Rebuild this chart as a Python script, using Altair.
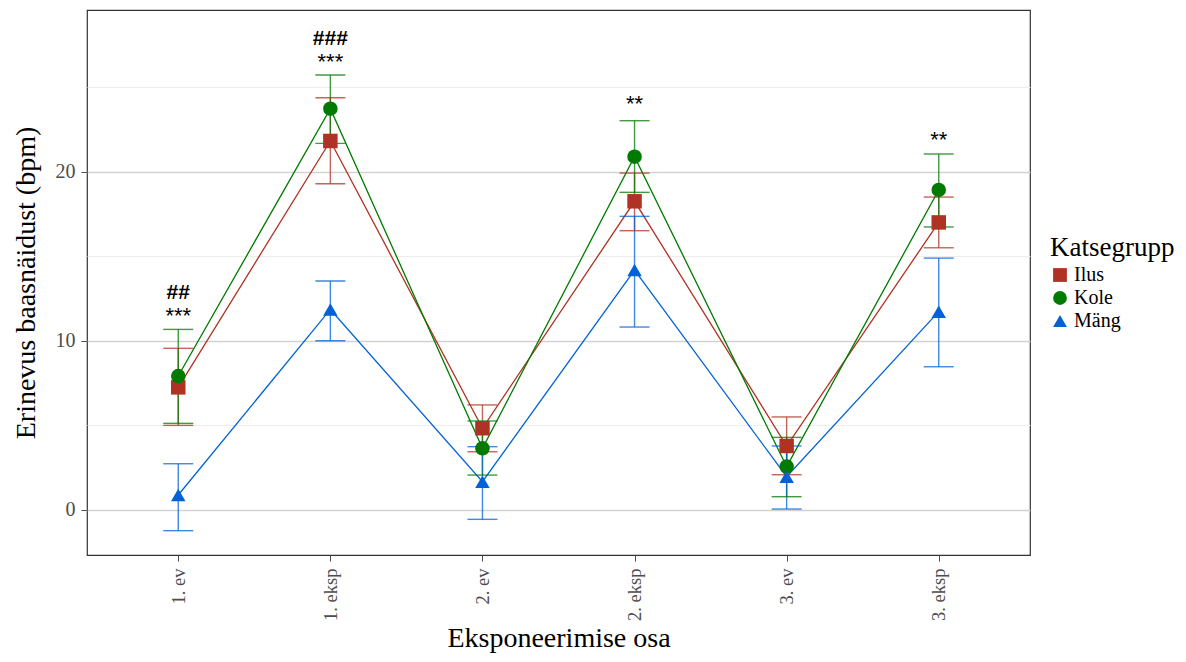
import altair as alt
import pandas as pd

phases = ["1. ev", "1. eksp", "2. ev", "2. eksp", "3. ev", "3. eksp"]
groups = ["Ilus", "Kole", "Mäng"]
colors = ["#B03224", "#007A00", "#0062D6"]
shapes = ["square", "circle", "triangle-up"]

ilus_mean = [7.24, 21.82, 4.82, 18.25, 3.77, 17.00]
ilus_lo = [4.99, 19.29, 3.43, 16.51, 2.07, 15.50]
ilus_hi = [9.55, 24.38, 6.20, 19.92, 5.49, 18.50]

kole_mean = [7.91, 23.73, 3.63, 20.89, 2.55, 18.92]
kole_lo = [5.11, 21.68, 2.05, 18.78, 0.77, 16.73]
kole_hi = [10.67, 25.72, 5.25, 23.02, 4.28, 21.05]

mang_mean = [0.87, 11.85, 1.66, 14.18, 1.95, 11.72]
mang_lo = [-1.24, 10.00, -0.57, 10.81, 0.04, 8.46]
mang_hi = [2.72, 13.53, 3.73, 17.36, 3.77, 14.89]

star_phase = ["1. ev", "1. eksp", "2. eksp", "3. eksp"]
star_text = ["***", "***", "**", "**"]
star_y = [11.05, 26.07, 23.59, 21.49]

hash_phase = ["1. ev", "1. eksp"]
hash_text = ["##", "###"]
hash_y = [12.46, 27.50]

rows = []
for g, m, lo, hi in [("Ilus", ilus_mean, ilus_lo, ilus_hi),
                     ("Kole", kole_mean, kole_lo, kole_hi),
                     ("Mäng", mang_mean, mang_lo, mang_hi)]:
    for p, a, b, c in zip(phases, m, lo, hi):
        rows.append({"phase": p, "group": g, "group2": g, "mean": a, "lo": b, "hi": c})
df = pd.DataFrame(rows)
stars = pd.DataFrame({"phase": star_phase, "text": star_text, "y": star_y})
hashes = pd.DataFrame({"phase": hash_phase, "text": hash_text, "y": hash_y})

FONT = "Liberation Serif"
xscale = alt.Scale(type="point", padding=0.6)
xenc = alt.X("phase:N", sort=phases, scale=xscale,
             axis=alt.Axis(title="Eksponeerimise osa", labelAngle=-90, labelFontSize=18.5,
                           labelColor="#4d4d4d", labelFont=FONT, titleFont=FONT,
                           titleFontSize=28, titleFontWeight="normal", titleColor="#000000",
                           titleY=91, titleBaseline="alphabetic",
                           tickColor="#4d4d4d", tickSize=6, labelPadding=7,
                           domain=False, grid=False))
yscale = alt.Scale(domain=[-2.68, 29.57], nice=False, zero=False)

major = "datum.value % 10 === 0"
yaxis = alt.Axis(
    values=[0, 5, 10, 15, 20, 25], grid=True,
    gridColor={"condition": {"test": major, "value": "#d2d2d2"}, "value": "#ededed"},
    gridWidth={"condition": {"test": major, "value": 1.3}, "value": 1},
    tickOpacity={"condition": {"test": major, "value": 1}, "value": 0},
    labelExpr="datum.value % 10 === 0 ? datum.label : ''",
    title="Erinevus baasnäidust (bpm)", titleFont=FONT, titleFontSize=28,
    titleFontWeight="normal", titleColor="#000000", labelFont=FONT,
    labelFontSize=20, labelColor="#4d4d4d", tickColor="#4d4d4d",
    tickSize=6, labelPadding=6, titlePadding=15, domain=False)

# separate field so these hidden legends do not merge with the visible one
stroke_enc = alt.Stroke("group2:N", scale=alt.Scale(range=colors), legend=None)
fill_enc = alt.Fill("group2:N", scale=alt.Scale(range=colors), legend=None)

base = alt.Chart(df)

lines = base.mark_line(strokeWidth=1.3).encode(
    x=xenc,
    y=alt.Y("mean:Q", scale=yscale, axis=yaxis),
    stroke=stroke_enc,
    detail="group:N",
)

err = base.mark_rule(strokeWidth=1.4, opacity=0.75).encode(
    x=xenc, y=alt.Y("lo:Q", scale=yscale), y2="hi:Q", stroke=stroke_enc)
cap_lo = base.mark_tick(size=30, thickness=1.4, opacity=0.75).encode(
    x=xenc, y=alt.Y("lo:Q", scale=yscale), fill=fill_enc)
cap_hi = base.mark_tick(size=30, thickness=1.4, opacity=0.75).encode(
    x=xenc, y=alt.Y("hi:Q", scale=yscale), fill=fill_enc)

legend = alt.Legend(title="Katsegrupp", orient="none", legendX=963, legendY=225,
                    titleFont=FONT, titleFontSize=27, titleFontWeight="normal",
                    titleColor="#000000", labelFont=FONT, labelFontSize=20,
                    labelColor="#000000", symbolSize=190, rowPadding=3, titlePadding=3,
                    labelOffset=4, symbolOpacity=1)
points = base.mark_point(filled=True, opacity=1, size=210).encode(
    x=xenc,
    y=alt.Y("mean:Q", scale=yscale),
    color=alt.Color("group:N", scale=alt.Scale(domain=groups, range=colors), legend=legend),
    shape=alt.Shape("group:N", scale=alt.Scale(domain=groups, range=shapes), legend=legend),
)

star_layer = alt.Chart(stars).mark_text(font="Liberation Sans", fontSize=22, color="#000000",
                                        baseline="alphabetic").encode(
    x=alt.X("phase:N", sort=phases, scale=xscale),
    y=alt.Y("y:Q", scale=yscale),
    text="text:N",
)
hash_layer = alt.Chart(hashes).mark_text(font="Liberation Sans", fontSize=21,
                                         fontWeight="bold", color="#000000",
                                         baseline="alphabetic").encode(
    x=alt.X("phase:N", sort=phases, scale=xscale),
    y=alt.Y("y:Q", scale=yscale),
    text="text:N",
)

chart = alt.layer(lines, err, cap_lo, cap_hi, points, star_layer, hash_layer).properties(
    width=943, height=545,
    autosize=alt.AutoSizeParams(type="none"),
    padding={"left": 79, "top": 2, "right": 148, "bottom": 99},
).configure_view(stroke="#333333", strokeWidth=1.2).configure_legend(
    labelFont=FONT, titleFont=FONT)

chart.save("out.html", embed_options={"renderer": "svg", "actions": False})
